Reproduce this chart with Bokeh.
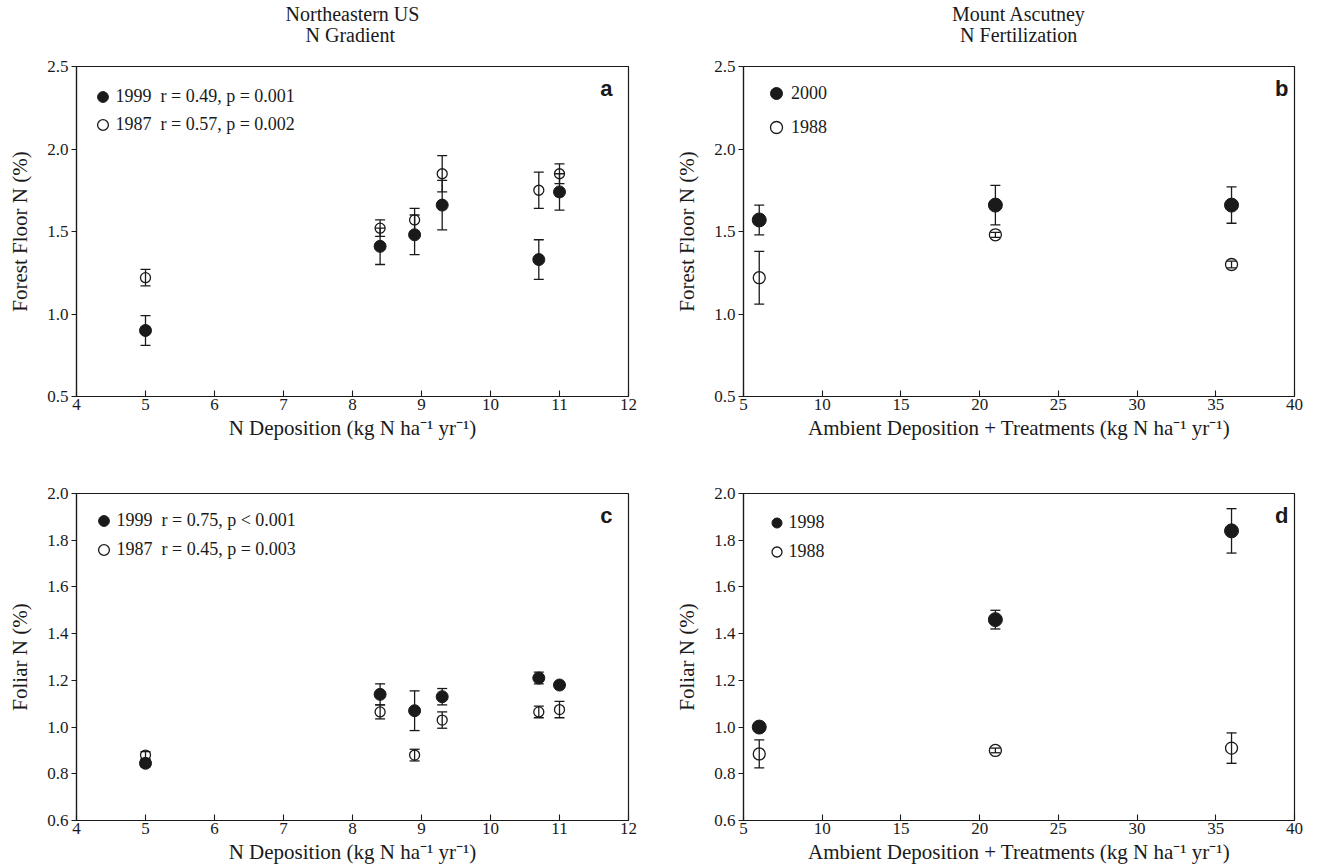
from bokeh.plotting import figure
from bokeh.layouts import gridplot
from bokeh.models import (ColumnDataSource, Whisker, TeeHead, FixedTicker, PrintfTickFormatter,
                          Range1d, Title, Legend, LegendItem, Label)
from bokeh.embed import file_html
from bokeh.resources import INLINE

# ---------------- data ----------------
# Panel a: Northeastern US N gradient, forest floor N (%)
dep_gradient = [5, 8.4, 8.9, 9.3, 10.7, 11]
ff_1999 = [0.90, 1.41, 1.48, 1.66, 1.33, 1.74]
ff_1999_se = [0.09, 0.11, 0.12, 0.15, 0.12, 0.11]
ff_1987 = [1.22, 1.52, 1.57, 1.85, 1.75, 1.85]
ff_1987_se = [0.05, 0.05, 0.07, 0.11, 0.11, 0.06]

# Panel b: Mount Ascutney N fertilization, forest floor N (%)
dep_fert = [6, 21, 36]
ff_2000 = [1.57, 1.66, 1.66]
ff_2000_se = [0.09, 0.12, 0.11]
ff_1988 = [1.22, 1.48, 1.30]
ff_1988_se = [0.16, 0.015, 0.02]

# Panel c: Northeastern US, foliar N (%)
fol_1999 = [0.845, 1.14, 1.07, 1.13, 1.21, 1.18]
fol_1999_se = [0.015, 0.045, 0.085, 0.035, 0.025, 0.01]
fol_1987 = [0.88, 1.065, 0.88, 1.03, 1.065, 1.075]
fol_1987_se = [0.015, 0.03, 0.025, 0.035, 0.025, 0.035]

# Panel d: Mount Ascutney, foliar N (%)
fol_1998 = [1.00, 1.46, 1.84]
fol_1998_se = [0.01, 0.04, 0.095]
fol_1988 = [0.885, 0.90, 0.91]
fol_1988_se = [0.06, 0.01, 0.065]

x_ticks_gradient = [4, 5, 6, 7, 8, 9, 10, 11, 12]
x_ticks_fert = [5, 10, 15, 20, 25, 30, 35, 40]
y_ticks_ff = [0.5, 1.0, 1.5, 2.0, 2.5]
y_ticks_fol = [0.6, 0.8, 1.0, 1.2, 1.4, 1.6, 1.8, 2.0]

label_a1 = "1999\u00a0\u00a0r = 0.49, p = 0.001"
label_a2 = "1987\u00a0\u00a0r = 0.57, p = 0.002"
label_c1 = "1999\u00a0\u00a0r = 0.75, p < 0.001"
label_c2 = "1987\u00a0\u00a0r = 0.45, p = 0.003"

# two-line column titles (second line padded so that it sits centred)
title_a = "Northeastern US\n\u00a0\u00a0\u00a0\u00a0N Gradient\n\u00a0"
title_b = "Mount Ascutney\n\u2009\u2009N Fertilization\n\u00a0"

xlab_gradient = "N Deposition (kg N ha\u207b\u00b9 yr\u207b\u00b9)"
xlab_fert = "Ambient Deposition + Treatments (kg N ha\u207b\u00b9 yr\u207b\u00b9)"
ylab_ff = "Forest Floor N (%)"
ylab_fol = "Foliar N (%)"

SERIF = "Liberation Serif"
SANS = "Liberation Sans"
INK = "#1a1a1a"


def panel(xs, y1, e1, y2, e2, lab1, lab2, xticks, yticks, xlabel, ylabel, letter,
          fw, fh, mb, big, leg, letter_dx, title=None):
    p = figure(frame_width=fw, frame_height=fh,
               x_range=Range1d(xticks[0], xticks[-1]), y_range=Range1d(yticks[0], yticks[-1]),
               output_backend="svg", toolbar_location=None,
               min_border_left=mb[0], min_border_right=mb[1],
               min_border_top=mb[2], min_border_bottom=mb[3])
    p.background_fill_color = "white"
    p.border_fill_color = "white"
    p.outline_line_color = INK
    p.outline_line_width = 1.2
    p.outline_line_alpha = 1.0
    p.xgrid.visible = False
    p.ygrid.visible = False

    for ax in (p.xaxis[0], p.yaxis[0]):
        ax.axis_line_color = INK
        ax.axis_line_width = 1.2
        ax.major_tick_line_color = INK
        ax.major_tick_line_width = 1.1
        ax.minor_tick_line_color = None
        ax.major_label_text_font = SERIF
        ax.major_label_text_font_size = "17px"
        ax.major_label_text_color = INK
        ax.axis_label_text_font = SERIF
        ax.axis_label_text_font_size = "21px"
        ax.axis_label_text_font_style = "normal"
        ax.axis_label_text_color = INK

    p.xaxis.ticker = FixedTicker(ticks=xticks)
    p.xaxis.formatter = PrintfTickFormatter(format="%d")
    p.xaxis.major_tick_in = 6
    p.xaxis.major_tick_out = 0
    p.xaxis.major_label_standoff = 2
    p.xaxis.axis_label = xlabel
    p.xaxis.axis_label_standoff = 3

    p.yaxis.ticker = FixedTicker(ticks=yticks)
    p.yaxis.formatter = PrintfTickFormatter(format="%.1f")
    p.yaxis.major_tick_in = 0
    p.yaxis.major_tick_out = 5
    p.yaxis.major_label_standoff = 3
    p.yaxis.axis_label = ylabel
    p.yaxis.axis_label_standoff = 12

    src1 = ColumnDataSource(dict(x=xs, y=y1, lo=[a - b for a, b in zip(y1, e1)],
                                 hi=[a + b for a, b in zip(y1, e1)]))
    src2 = ColumnDataSource(dict(x=xs, y=y2, lo=[a - b for a, b in zip(y2, e2)],
                                 hi=[a + b for a, b in zip(y2, e2)]))
    for src in (src2, src1):
        w = Whisker(base="x", upper="hi", lower="lo", source=src, dimension="height",
                    line_color=INK, line_width=1.3,
                    upper_head=TeeHead(size=10, line_color=INK, line_width=1.3),
                    lower_head=TeeHead(size=10, line_color=INK, line_width=1.3))
        p.add_layout(w)

    s_f, s_o = (14, 12) if big else (12, 10)
    r2 = p.scatter("x", "y", source=src2, marker="circle", size=s_o, fill_alpha=0,
                   line_color=INK, line_width=1.3)
    r1 = p.scatter("x", "y", source=src1, marker="circle", size=s_f, fill_color=INK,
                   line_color=INK, line_width=1)

    # legend geometry: (dx, dy1, pitch, glyph)
    dx, dy1, pitch, g = leg
    spacing = pitch - g
    H = 2 * g + spacing
    legend = Legend(items=[LegendItem(label=lab1, renderers=[r1]),
                           LegendItem(label=lab2, renderers=[r2])],
                    location=(dx - g / 2, fh - (dy1 - g / 2) - H),
                    glyph_width=g, glyph_height=g, spacing=spacing, padding=0, margin=0,
                    label_standoff=-4, label_height=g,
                    label_text_font=SERIF, label_text_font_size="18px",
                    label_text_color=INK, border_line_color=None,
                    background_fill_alpha=0)
    p.add_layout(legend)

    p.add_layout(Label(x=xticks[-1], y=yticks[-1], x_offset=letter_dx, y_offset=-9,
                       text=letter, text_font=SANS, text_font_style="bold",
                       text_font_size="22px", text_color=INK,
                       text_align="right", text_baseline="top"))

    if title:
        p.add_layout(Title(text=title, align="center", text_font=SERIF,
                           text_font_size="20px", text_font_style="normal",
                           text_line_height=0.95,
                           text_color=INK, standoff=0), "above")
    return p


pa = panel(dep_gradient, ff_1999, ff_1999_se, ff_1987, ff_1987_se, label_a1, label_a2,
           x_ticks_gradient, y_ticks_ff, xlab_gradient, ylab_ff, "a",
           552, 330, (76, 32, 65, 87), False, (26, 30, 28, 27), -16, title=title_a)
pb = panel(dep_fert, ff_2000, ff_2000_se, ff_1988, ff_1988_se, "2000", "1988",
           x_ticks_fert, y_ticks_ff, xlab_fert, ylab_ff, "b",
           551, 330, (83, 20, 65, 87), True, (33, 27, 34, 30), -6, title=title_b)
pc = panel(dep_gradient, fol_1999, fol_1999_se, fol_1987, fol_1987_se, label_c1, label_c2,
           x_ticks_gradient, y_ticks_fol, xlab_gradient, ylab_fol, "c",
           552, 327, (76, 32, 10, 47), False, (27, 27, 29, 27), -16)
pd_ = panel(dep_fert, fol_1998, fol_1998_se, fol_1988, fol_1988_se, "1998", "1988",
            x_ticks_fert, y_ticks_fol, xlab_fert, ylab_fol, "d",
            551, 327, (83, 20, 10, 47), True, (33, 29, 29, 25), -6)

grid = gridplot([[pa, pb], [pc, pd_]], toolbar_location=None)

open("out.html", "w").write(file_html(grid, INLINE))
